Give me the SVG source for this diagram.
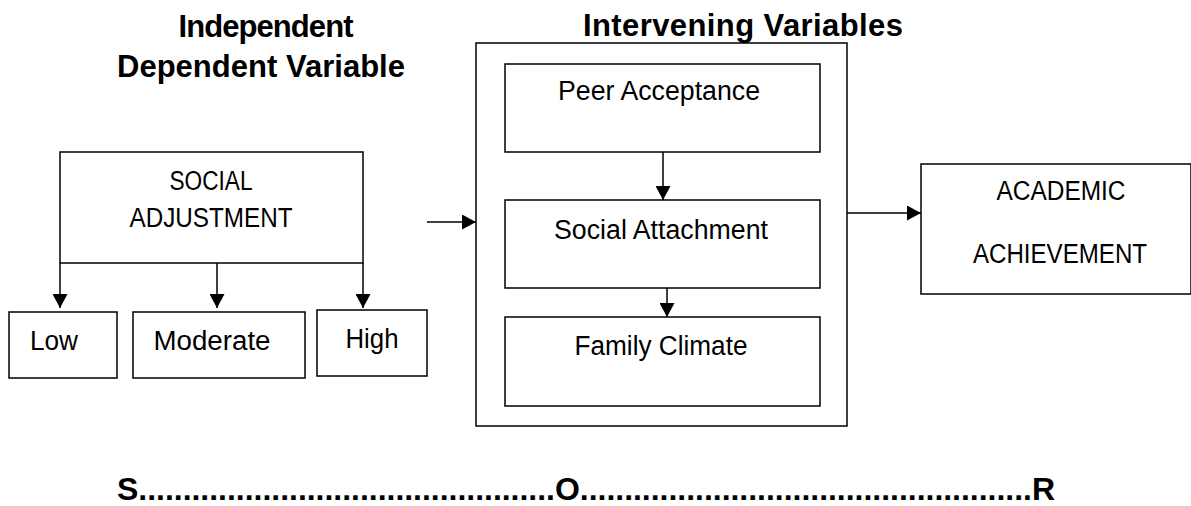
<svg xmlns="http://www.w3.org/2000/svg" width="1191" height="506" viewBox="0 0 1191 506">
<style>
.box{fill:#fff;stroke:#000;stroke-width:1.5}
.conn{fill:none;stroke:#000;stroke-width:1.5}
.h{font-family:"Liberation Sans",Arial,sans-serif;font-weight:bold;font-size:31px;fill:#000;text-anchor:middle}
.t{font-family:"Liberation Sans",Arial,sans-serif;font-size:27px;fill:#000;text-anchor:middle}
.sor{font-family:"Liberation Sans",Arial,sans-serif;font-weight:bold;font-size:32px;fill:#000}
</style>
<defs>
<marker id="ah" markerUnits="userSpaceOnUse" markerWidth="15" markerHeight="15" refX="14" refY="7.5" orient="auto">
<path d="M0,0 L14,7.5 L0,15 z" fill="#000"/>
</marker>
</defs>
<rect width="1191" height="506" fill="#fff"/>
<g id="headings">
<text class="h" x="266" y="37" textLength="175">Independent</text>
<text class="h" x="261" y="77" textLength="288">Dependent Variable</text>
<text class="h" x="743" y="36" textLength="320">Intervening Variables</text>
</g>
<g id="intervening">
<rect class="box" x="476" y="43" width="371" height="383"/>
</g>
<g id="peer">
<rect class="box" x="505" y="64" width="315" height="88"/>
<text class="t" x="659" y="100" textLength="202" lengthAdjust="spacingAndGlyphs">Peer Acceptance</text>
</g>
<g id="attachment">
<rect class="box" x="505" y="200" width="315" height="88"/>
<text class="t" x="661" y="239" textLength="214" lengthAdjust="spacingAndGlyphs">Social Attachment</text>
</g>
<g id="family">
<rect class="box" x="505" y="317" width="315" height="89"/>
<text class="t" x="661" y="355" textLength="173" lengthAdjust="spacingAndGlyphs">Family Climate</text>
</g>
<g id="social">
<rect class="box" x="60" y="152" width="303" height="111"/>
<text class="t" x="211" y="190" textLength="83" lengthAdjust="spacingAndGlyphs">SOCIAL</text>
<text class="t" x="211" y="227" textLength="163" lengthAdjust="spacingAndGlyphs">ADJUSTMENT</text>
</g>
<g id="low">
<rect class="box" x="9" y="312" width="108" height="66"/>
<text class="t" x="54" y="350" textLength="48" lengthAdjust="spacingAndGlyphs">Low</text>
</g>
<g id="moderate">
<rect class="box" x="133" y="312" width="172" height="66"/>
<text class="t" x="212" y="350" textLength="117" lengthAdjust="spacingAndGlyphs">Moderate</text>
</g>
<g id="high">
<rect class="box" x="317" y="310" width="110" height="66"/>
<text class="t" x="372" y="348" textLength="53" lengthAdjust="spacingAndGlyphs">High</text>
</g>
<g id="academic">
<rect class="box" x="921" y="164" width="270" height="130"/>
<text class="t" x="1061" y="200" textLength="129" lengthAdjust="spacingAndGlyphs">ACADEMIC</text>
<text class="t" x="1060" y="263" textLength="174" lengthAdjust="spacingAndGlyphs">ACHIEVEMENT</text>
</g>
<g id="connectors">
<line class="conn" x1="60" y1="263" x2="60" y2="308" marker-end="url(#ah)"/>
<line class="conn" x1="217" y1="263" x2="217" y2="308" marker-end="url(#ah)"/>
<line class="conn" x1="363" y1="263" x2="363" y2="308" marker-end="url(#ah)"/>
<line class="conn" x1="427" y1="222" x2="476" y2="222" marker-end="url(#ah)"/>
<line class="conn" x1="663" y1="152" x2="663" y2="200" marker-end="url(#ah)"/>
<line class="conn" x1="667" y1="288" x2="667" y2="317" marker-end="url(#ah)"/>
<line class="conn" x1="847" y1="213" x2="921" y2="213" marker-end="url(#ah)"/>
</g>
<g id="sor">
<text class="sor" x="117" y="500" textLength="938">S...............................................O...................................................R</text>
</g>
</svg>
